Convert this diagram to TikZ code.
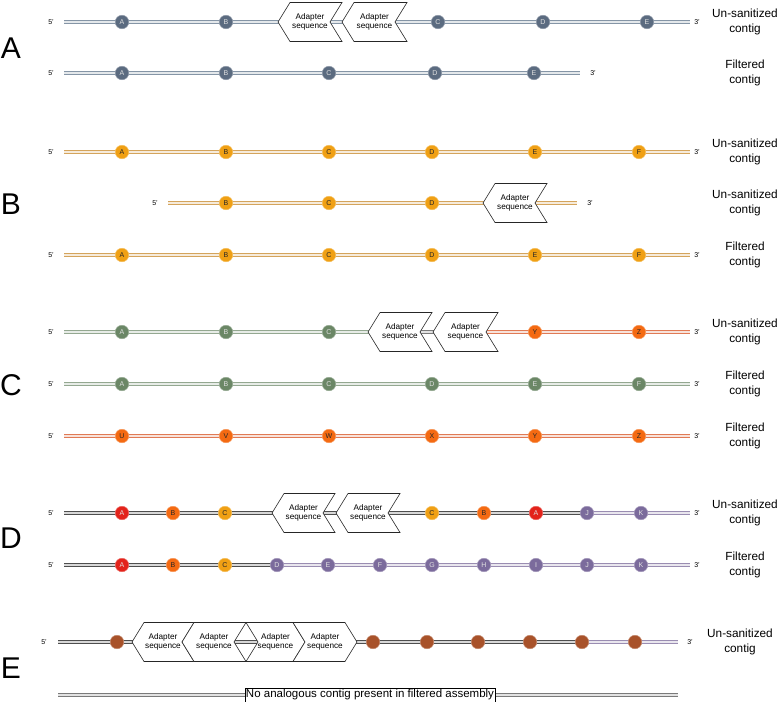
\documentclass[tikz,border=0pt]{standalone}
\usepackage{fontspec}
\setmainfont{Liberation Sans}
\usetikzlibrary{calc}
\definecolor{slate}{HTML}{5B6B80}
\definecolor{slateline}{HTML}{8595A6}
\definecolor{amber}{HTML}{F0A014}
\definecolor{amberline}{HTML}{D4A45C}
\definecolor{sage}{HTML}{6B8766}
\definecolor{sageline}{HTML}{94A891}
\definecolor{tang}{HTML}{F46A12}
\definecolor{tangline}{HTML}{E07A55}
\definecolor{crimson}{HTML}{E3231B}
\definecolor{plum}{HTML}{7B6B9C}
\definecolor{plumline}{HTML}{9A8DB2}
\definecolor{darkline}{HTML}{4E4E4E}
\definecolor{midline}{HTML}{7A7A7A}
\definecolor{rust}{HTML}{A8522A}
\newcommand\adpL[4]{% name, tip x, y, width
  \draw[adbox] (#2,#3) -- ++(12,-19.5) -- ++(#4-12,0) -- ++(-12,19.5) -- ++(12,19.5) -- ++(-#4+12,0) -- cycle;
  \path (#2,#3) ++(0.5*#4,0) node[adtext] (#1) {Adapter\\sequence};}
\newcommand\adpR[4]{% name, left x, y, width
  \draw[adbox] (#2,#3) ++(0,-19.5) -- ++(#4-12,0) -- ++(12,19.5) -- ++(-12,19.5) -- ++(-#4+12,0) -- ++(12,-19.5) -- cycle;
  \path (#2,#3) ++(0.5*#4,0) node[adtext] (#1) {Adapter\\sequence};}
\begin{document}
\begin{tikzpicture}[x=1pt,y=-1pt,
  strand/.style={draw=#1, double=#1!22!white, line width=0.8pt, double distance=1.5pt},
  bead/.style={circle, inner sep=0pt, minimum size=13.5pt, font=\fontsize{7}{7}\selectfont, fill=#1, draw=#1!70!white, line width=0.5pt},
  lt/.style={text=white!88!black},
  dk/.style={text=black!85},
  adbox/.style={draw=black!85, fill=white, line width=0.6pt, line join=miter},
  adtext/.style={align=center, font=\fontsize{8.2}{9.7}\selectfont, inner sep=0pt},
  lab/.style={font=\fontsize{7}{7}\selectfont, inner sep=0pt},
  side/.style={align=center, font=\fontsize{11.8}{14.5}\selectfont, inner sep=0pt},
  panel/.style={font=\fontsize{30}{30}\selectfont, inner sep=0pt},
  nobox/.style={draw=black, fill=white, line width=0.6pt, inner xsep=1pt, inner ysep=1.5pt, font=\fontsize{11.5}{13}\selectfont}]
\useasboundingbox (0,0) rectangle (780,702);

% panel letters
\node[panel] (pA) at (11,48.5) {A};
\node[panel] (pB) at (11,204) {B};
\node[panel] (pC) at (11,385) {C};
\node[panel] (pD) at (11,538) {D};
\node[panel] (pE) at (11,668) {E};

% ---------------- A ----------------
\coordinate (a1s) at (64,22); \coordinate (a1e) at (690,22);
\draw[strand=slateline] (a1s) -- (a1e);
\adpL{a1p}{278}{22}{64}
\adpL{a1q}{342}{22}{65}
\node[bead=slate,lt] (a1A) at (122,22) {A};
\node[bead=slate,lt] (a1B) at (226,22) {B};
\node[bead=slate,lt] (a1C) at (438,22) {C};
\node[bead=slate,lt] (a1D) at (543,22) {D};
\node[bead=slate,lt] (a1E) at (647,22) {E};
\node[lab] (a1l) at (51,22) {5'};
\node[lab] (a1r) at (697,22) {3'};
\node[side] (a1t) at (745,22) {Un-sanitized\\contig};

\coordinate (a2s) at (64,73); \coordinate (a2e) at (580,73);
\draw[strand=slateline] (a2s) -- (a2e);
\node[bead=slate,lt] (a2A) at (122,73) {A};
\node[bead=slate,lt] (a2B) at (226,73) {B};
\node[bead=slate,lt] (a2C) at (329,73) {C};
\node[bead=slate,lt] (a2D) at (435,73) {D};
\node[bead=slate,lt] (a2E) at (534,73) {E};
\node[lab] (a2l) at (51,73) {5'};
\node[lab] (a2r) at (593,73) {3'};
\node[side] (a2t) at (745,73) {Filtered\\contig};

% ---------------- B ----------------
\coordinate (b1s) at (64,152); \coordinate (b1e) at (690,152);
\draw[strand=amberline] (b1s) -- (b1e);
\node[bead=amber,dk] (b1A) at (122,152) {A};
\node[bead=amber,dk] (b1B) at (226,152) {B};
\node[bead=amber,dk] (b1C) at (329,152) {C};
\node[bead=amber,dk] (b1D) at (432,152) {D};
\node[bead=amber,dk] (b1E) at (535,152) {E};
\node[bead=amber,dk] (b1F) at (639,152) {F};
\node[lab] (b1l) at (51,152) {5'};
\node[lab] (b1r) at (697,152) {3'};
\node[side] (b1t) at (745,152) {Un-sanitized\\contig};

\coordinate (b2s) at (168,203); \coordinate (b2e) at (577,203);
\draw[strand=amberline] (b2s) -- (b2e);
\adpL{b2p}{483}{203}{64}
\node[bead=amber,dk] (b2B) at (226,203) {B};
\node[bead=amber,dk] (b2C) at (329,203) {C};
\node[bead=amber,dk] (b2D) at (432,203) {D};
\node[lab] (b2l) at (155,203) {5'};
\node[lab] (b2r) at (590,203) {3'};
\node[side] (b2t) at (745,203) {Un-sanitized\\contig};

\coordinate (b3s) at (64,255); \coordinate (b3e) at (690,255);
\draw[strand=amberline] (b3s) -- (b3e);
\node[bead=amber,dk] (b3A) at (122,255) {A};
\node[bead=amber,dk] (b3B) at (226,255) {B};
\node[bead=amber,dk] (b3C) at (329,255) {C};
\node[bead=amber,dk] (b3D) at (432,255) {D};
\node[bead=amber,dk] (b3E) at (535,255) {E};
\node[bead=amber,dk] (b3F) at (639,255) {F};
\node[lab] (b3l) at (51,255) {5'};
\node[lab] (b3r) at (697,255) {3'};
\node[side] (b3t) at (745,255) {Filtered\\contig};

% ---------------- C ----------------
\coordinate (c1s) at (64,332); \coordinate (c1e) at (690,332);
\coordinate (c1m) at (380,332); \coordinate (c1n) at (460,332); \coordinate (c1o) at (470,332);
\draw[strand=sageline] (c1s) -- (c1m);
\draw[strand=midline] (c1m) -- (c1n);
\draw[strand=tangline] (c1o) -- (c1e);
\adpL{c1p}{368}{332}{64}
\adpL{c1q}{433}{332}{65}
\node[bead=sage,lt] (c1A) at (122,332) {A};
\node[bead=sage,lt] (c1B) at (226,332) {B};
\node[bead=sage,lt] (c1C) at (329,332) {C};
\node[bead=tang,dk] (c1Y) at (535,332) {Y};
\node[bead=tang,dk] (c1Z) at (639,332) {Z};
\node[lab] (c1l) at (51,332) {5'};
\node[lab] (c1r) at (697,332) {3'};
\node[side] (c1t) at (745,332) {Un-sanitized\\contig};

\coordinate (c2s) at (64,384); \coordinate (c2e) at (690,384);
\draw[strand=sageline] (c2s) -- (c2e);
\node[bead=sage,lt] (c2A) at (122,384) {A};
\node[bead=sage,lt] (c2B) at (226,384) {B};
\node[bead=sage,lt] (c2C) at (329,384) {C};
\node[bead=sage,lt] (c2D) at (432,384) {D};
\node[bead=sage,lt] (c2E) at (535,384) {E};
\node[bead=sage,lt] (c2F) at (639,384) {F};
\node[lab] (c2l) at (51,384) {5'};
\node[lab] (c2r) at (697,384) {3'};
\node[side] (c2t) at (745,384) {Filtered\\contig};

\coordinate (c3s) at (64,436); \coordinate (c3e) at (690,436);
\draw[strand=tangline] (c3s) -- (c3e);
\node[bead=tang,dk] (c3U) at (122,436) {U};
\node[bead=tang,dk] (c3V) at (226,436) {V};
\node[bead=tang,dk] (c3W) at (329,436) {W};
\node[bead=tang,dk] (c3X) at (432,436) {X};
\node[bead=tang,dk] (c3Y) at (535,436) {Y};
\node[bead=tang,dk] (c3Z) at (639,436) {Z};
\node[lab] (c3l) at (51,436) {5'};
\node[lab] (c3r) at (697,436) {3'};
\node[side] (c3t) at (745,436) {Filtered\\contig};

% ---------------- D ----------------
\coordinate (d1s) at (64,513); \coordinate (d1e) at (690,513);
\coordinate (d1j) at (587,513);
\draw[strand=darkline] (d1s) -- (d1j);
\draw[strand=plumline] (d1j) -- (d1e);
\adpL{d1p}{272}{513}{63}
\adpL{d1q}{336}{513}{64}
\node[bead=crimson,lt] (d1A) at (122,513) {A};
\node[bead=tang,dk] (d1B) at (173,513) {B};
\node[bead=amber,dk] (d1C) at (225,513) {C};
\node[bead=amber,dk] (d1Cb) at (432,513) {C};
\node[bead=tang,dk] (d1Bb) at (484,513) {B};
\node[bead=crimson,lt] (d1Ab) at (536,513) {A};
\node[bead=plum,lt] (d1J) at (d1j) {J};
\node[bead=plum,lt] (d1K) at (641,513) {K};
\node[lab] (d1l) at (51,513) {5'};
\node[lab] (d1r) at (697,513) {3'};
\node[side] (d1t) at (745,513) {Un-sanitized\\contig};

\coordinate (d2s) at (64,565); \coordinate (d2e) at (690,565);
\coordinate (d2d) at (277,565);
\draw[strand=darkline] (d2s) -- (d2d);
\draw[strand=plumline] (d2d) -- (d2e);
\node[bead=crimson,lt] (d2A) at (122,565) {A};
\node[bead=tang,dk] (d2B) at (173,565) {B};
\node[bead=amber,dk] (d2C) at (225,565) {C};
\node[bead=plum,lt] (d2D) at (d2d) {D};
\node[bead=plum,lt] (d2E) at (328,565) {E};
\node[bead=plum,lt] (d2F) at (380,565) {F};
\node[bead=plum,lt] (d2G) at (432,565) {G};
\node[bead=plum,lt] (d2H) at (484,565) {H};
\node[bead=plum,lt] (d2I) at (536,565) {I};
\node[bead=plum,lt] (d2J) at (587,565) {J};
\node[bead=plum,lt] (d2K) at (641,565) {K};
\node[lab] (d2l) at (51,565) {5'};
\node[lab] (d2r) at (697,565) {3'};
\node[side] (d2t) at (745,565) {Filtered\\contig};

% ---------------- E ----------------
\coordinate (e1s) at (58,642); \coordinate (e1e) at (678,642);
\coordinate (e1f) at (582,642);
\draw[strand=darkline] (e1s) -- (e1f);
\draw[strand=plumline] (e1f) -- (e1e);
\adpL{e1p}{132}{642}{62}
\adpL{e1q}{182}{642}{64}
\adpR{e1r3}{246}{642}{59}
\adpR{e1r4}{293}{642}{64}
\node[bead=rust] (e1a) at (117,642) {};
\node[bead=rust] (e1b) at (373,642) {};
\node[bead=rust] (e1c) at (427,642) {};
\node[bead=rust] (e1d) at (478,642) {};
\node[bead=rust] (e1g) at (530,642) {};
\node[bead=rust] (e1h) at (e1f) {};
\node[bead=rust] (e1i) at (635,642) {};
\node[lab] (e1l) at (44,642) {5'};
\node[lab] (e1r) at (690,642) {3'};
\node[side] (e1t) at (740,642) {Un-sanitized\\contig};

\coordinate (e2s) at (58,695); \coordinate (e2e) at (678,695);
\draw[strand=midline] (e2s) -- (e2e);
\node[nobox] (e2t) at (370,695) {No analogous contig present in filtered assembly};
\end{tikzpicture}
\end{document}
